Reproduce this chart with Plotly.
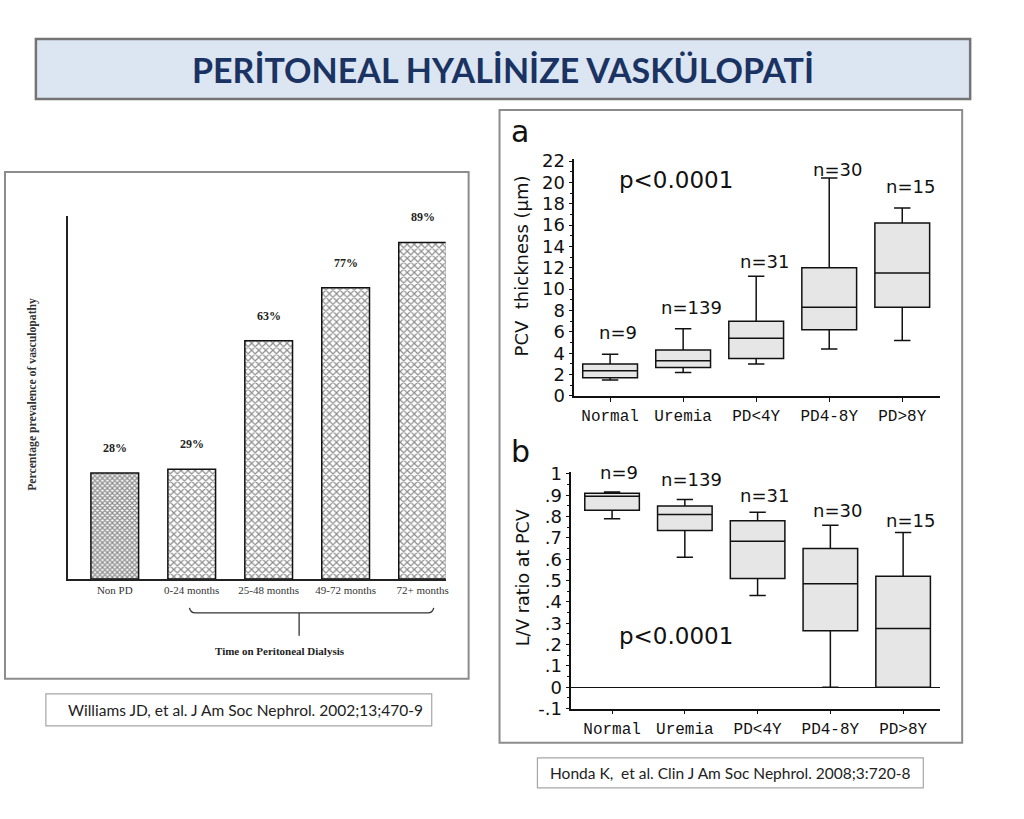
import plotly.graph_objects as go

W, H = 1024, 819
# the photographed page maps figure y to screen y as  y_screen ~ 0.977*y_fig + 8
SY, OY = 0.977, 8.0
def px(x): return x / W
def py(y): return 1 - ((y - OY) / SY) / H

# ---------------- data ----------------
# Left chart (Williams et al.)
dialysis_groups = ["Non PD", "0-24 months", "25-48 months", "49-72 months", "72+ months"]
prevalence_pct = [28, 29, 63, 77, 89]

# Right charts (Honda et al.)
groups = ["Normal", "Uremia", "PD<4Y", "PD4-8Y", "PD>8Y"]
n_counts = [9, 139, 31, 30, 15]

pcv_low = [1.5, 2.2, 3.0, 4.4, 5.2]
pcv_q1 = [1.7, 2.65, 3.5, 6.2, 8.3]
pcv_med = [2.35, 3.3, 5.4, 8.3, 11.5]
pcv_q3 = [3.0, 4.3, 7.0, 12.0, 16.2]
pcv_high = [3.9, 6.3, 11.2, 20.4, 17.6]

lv_low = [0.79, 0.61, 0.43, 0.0, 0.0]
lv_q1 = [0.83, 0.735, 0.51, 0.265, 0.0]
lv_med = [0.895, 0.81, 0.685, 0.485, 0.275]
lv_q3 = [0.91, 0.85, 0.78, 0.65, 0.52]
lv_high = [0.915, 0.88, 0.82, 0.76, 0.725]

lv_tickvals = [-0.1, 0, 0.1, 0.2, 0.3, 0.4, 0.5, 0.6, 0.7, 0.8, 0.9, 1.0]
lv_ticktext = ["-.1", "0", ".1", ".2", ".3", ".4", ".5", ".6", ".7", ".8", ".9", "1"]

# label placement (layout only)
a_label_y = [5.9, 8.3, 12.6, 21.2, 19.6]
b_label_y = [1.005, 0.972, 0.898, 0.828, 0.78]

fig = go.Figure()

# ---------- left bar chart ----------
fig.add_trace(go.Bar(
    x=dialysis_groups, y=prevalence_pct, xaxis="x", yaxis="y",
    width=0.62,
    marker=dict(
        color="white",
        line=dict(color="#111", width=1.5),
        pattern=dict(shape="x", fgcolor="#1a1a1a", bgcolor="white",
                     size=[3.5, 5, 5, 5, 5], solidity=[0.6, 0.42, 0.42, 0.42, 0.42]),
    ),
    showlegend=False, hoverinfo="skip",
))

# ---------- panel a / b box plots ----------
box_style = dict(fillcolor="#e6e6e6", line=dict(color="#111", width=1.5),
                 width=0.75, whiskerwidth=0.3, boxpoints=False,
                 showlegend=False, hoverinfo="skip")
fig.add_trace(go.Box(x=groups, q1=pcv_q1, median=pcv_med, q3=pcv_q3,
                     lowerfence=pcv_low, upperfence=pcv_high,
                     xaxis="x2", yaxis="y2", **box_style))
fig.add_trace(go.Box(x=groups, q1=lv_q1, median=lv_med, q3=lv_q3,
                     lowerfence=lv_low, upperfence=lv_high,
                     xaxis="x3", yaxis="y3", **box_style))

serif = "Liberation Serif"
sans = "DejaVu Sans"
mono = "Liberation Mono"

fig.update_layout(
    width=W, height=H, margin=dict(l=0, r=0, t=0, b=0),
    paper_bgcolor="white", plot_bgcolor="rgba(0,0,0,0)",
    xaxis=dict(domain=[px(68), px(447)], range=[-0.61, 4.30], type="category",
               showline=True, linecolor="#222", linewidth=1.5, ticks="",
               showgrid=False, zeroline=False,
               tickfont=dict(family=serif, size=11, color="#333"),
               anchor="y"),
    yaxis=dict(domain=[py(578), py(215)], range=[0, 96], showline=True,
               linecolor="#222", linewidth=1.5, showticklabels=False, ticks="",
               showgrid=False, zeroline=False, anchor="x"),
    xaxis2=dict(domain=[px(576), px(943)], range=[-0.49, 4.52], type="category",
                showline=True, linecolor="#111", linewidth=1.5, ticks="outside",
                ticklen=4, tickcolor="#111", showgrid=False, zeroline=False,
                tickfont=dict(family=mono, size=16, color="#111"), anchor="y2"),
    yaxis2=dict(domain=[py(395), py(157.9)], range=[0, 22.2], showline=True,
                linecolor="#111", linewidth=1.5, ticks="outside", ticklen=4,
                tickcolor="#111", dtick=2, tick0=0,
                minor=dict(dtick=1, ticks="outside", ticklen=3, tickcolor="#111"),
                showgrid=False, zeroline=False,
                tickfont=dict(family=sans, size=18, color="#111"), anchor="x2"),
    xaxis3=dict(domain=[px(573), px(943)], range=[-0.56, 4.51], type="category",
                showline=True, linecolor="#111", linewidth=1.5, ticks="outside",
                ticklen=4, tickcolor="#111", showgrid=False, zeroline=False,
                tickfont=dict(family=mono, size=16, color="#111"), anchor="y3"),
    yaxis3=dict(domain=[py(707.7), py(470.9)], range=[-0.1, 1.01], showline=True,
                linecolor="#111", linewidth=1.5, ticks="outside", ticklen=4,
                tickcolor="#111", tickvals=lv_tickvals, ticktext=lv_ticktext,
                minor=dict(dtick=0.05, ticks="outside", ticklen=3, tickcolor="#111"),
                showgrid=False, zeroline=True, zerolinecolor="#111", zerolinewidth=1.2,
                tickfont=dict(family=sans, size=18, color="#111"), anchor="x3"),
)

shapes = []
# title box
shapes.append(dict(type="rect", xref="paper", yref="paper", x0=px(36), x1=px(973), y0=py(98), y1=py(38),
                   fillcolor="#dce6f2", line=dict(color="#747474", width=2.5), layer="below"))
# left figure frame
shapes.append(dict(type="rect", xref="paper", yref="paper", x0=px(5), x1=px(470), y0=py(678), y1=py(171),
                   fillcolor="white", line=dict(color="#8c8c8c", width=2), layer="below"))
# right figure frame
shapes.append(dict(type="rect", xref="paper", yref="paper", x0=px(501), x1=px(965), y0=py(742), y1=py(109),
                   fillcolor="white", line=dict(color="#8c8c8c", width=2), layer="below"))
# citation boxes
shapes.append(dict(type="rect", xref="paper", yref="paper", x0=px(46), x1=px(433), y0=py(725), y1=py(693),
                   fillcolor="white", line=dict(color="#a6a6a6", width=1.2), layer="below"))
shapes.append(dict(type="rect", xref="paper", yref="paper", x0=px(539), x1=px(926), y0=py(787), y1=py(757),
                   fillcolor="white", line=dict(color="#a6a6a6", width=1.2), layer="below"))
# bracket under dialysis groups
bx0, bx1, by, bm, bt = 190, 435, 612, 300, 635
path = (f"M {px(bx0)},{py(by-5)} Q {px(bx0+1)},{py(by)} {px(bx0+6)},{py(by)} "
        f"L {px(bx1-6)},{py(by)} Q {px(bx1-1)},{py(by)} {px(bx1)},{py(by-5)}")
shapes.append(dict(type="path", xref="paper", yref="paper", path=path,
                   line=dict(color="#333", width=1.3)))
shapes.append(dict(type="line", xref="paper", yref="paper", x0=px(bm), x1=px(bm), y0=py(by), y1=py(bt),
                   line=dict(color="#333", width=1.3)))

def ann(text, x, y, size, family, color="#111", **kw):
    d = dict(text=text, xref="paper", yref="paper", x=px(x), y=py(y), showarrow=False,
             xanchor="center", yanchor="middle",
             font=dict(family=family, size=size, color=color))
    d.update(kw)
    return d

annotations = []
annotations.append(ann("<b>PERİTONEAL HYALİNİZE VASKÜLOPATİ</b>", 504, 69, 34, "Lato", "#1a3362"))
# percent labels
for g, v in zip(dialysis_groups, prevalence_pct):
    annotations.append(dict(text=f"<b>{v}%</b>", xref="x", yref="y", x=g, y=v, yshift=25,
                            xanchor="center", yanchor="middle",
                            showarrow=False, font=dict(family=serif, size=12, color="#222")))
annotations.append(ann("<b>Percentage prevalence of vasculopathy</b>", 33, 393, 11.7, serif, "#333", textangle=-90))
annotations.append(ann("<b>Time on Peritoneal Dialysis</b>", 281, 650, 11, serif, "#222"))
# panel a
annotations.append(ann("a", 522, 131, 30, sans))
annotations.append(ann("p<0.0001", 678, 179, 23, sans))
annotations.append(ann("PCV  thickness (μm)", 523, 265, 18, sans, textangle=-90))
for g, n, ly in zip(groups, n_counts, a_label_y):
    annotations.append(dict(text=f"n={n}", xref="x2", yref="y2", x=g, y=ly, xshift=8, showarrow=False,
                            xanchor="center", yanchor="middle",
                            font=dict(family=sans, size=18, color="#111")))
# panel b
annotations.append(ann("b", 522, 451, 30, sans))
annotations.append(ann("p<0.0001", 678, 635, 23, sans))
annotations.append(ann("L/V ratio at PCV", 524, 577, 17.5, sans, textangle=-90))
for g, n, ly in zip(groups, n_counts, b_label_y):
    annotations.append(dict(text=f"n={n}", xref="x3", yref="y3", x=g, y=ly, xshift=7, showarrow=False,
                            xanchor="center", yanchor="middle",
                            font=dict(family=sans, size=18, color="#111")))
# citations
annotations.append(ann("Williams JD, et al. J Am Soc Nephrol. 2002;13;470-9", 66, 709, 15.5, "Lato", "#222",
                       xanchor="left"))
annotations.append(ann("Honda K,  et al. Clin J Am Soc Nephrol. 2008;3:720-8", 550, 772, 15.5, "Lato", "#222",
                       xanchor="left"))

fig.update_layout(shapes=shapes, annotations=annotations)
fig.write_html("out.html", config={"displayModeBar": False},
               post_script="document.body.style.margin='0';")
